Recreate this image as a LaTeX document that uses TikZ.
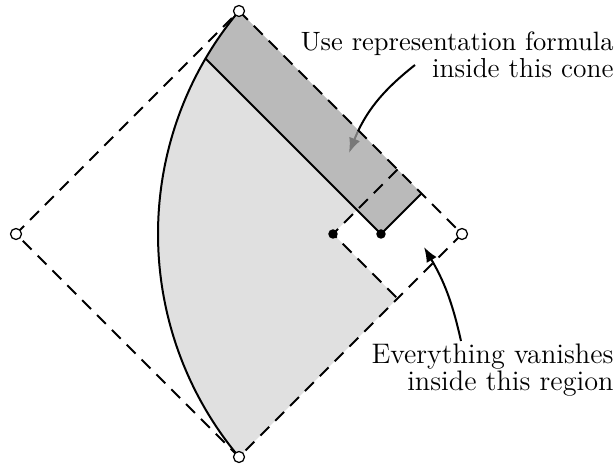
\documentclass[tikz,border=0pt]{standalone}
\usetikzlibrary{arrows.meta}
\definecolor{lightreg}{gray}{0.88}
\definecolor{bandcol}{gray}{0.635}
\begin{document}
\begin{tikzpicture}[x=0.4pt,y=0.4pt,
  edgeline/.style={line width=0.8pt, line join=round},
  dashedge/.style={line width=0.8pt, dash pattern=on 5pt off 3.4pt},
  opendot/.style={circle, draw, fill=white, line width=0.5pt, inner sep=0pt, minimum size=4.4pt},
  fulldot/.style={circle, fill=black, inner sep=0pt, minimum size=3.8pt},
  callout/.style={line width=0.8pt, -{Latex[length=6pt,width=4.6pt]}},
  lbl/.style={inner sep=0pt, anchor=base east}]
\useasboundingbox (0,0) rectangle (616,466);
% diamond vertices
\coordinate (T) at (239,455);
\coordinate (B) at (239,9);
\coordinate (L) at (16,232);
\coordinate (Rt) at (462,232);
% inner points
\coordinate (A) at (333,232);
\coordinate (D) at (381,232);
\coordinate (Q) at (397.5,296.5);
\coordinate (S) at (397.5,167.5);
\coordinate (E) at (421.5,272.5);
\coordinate (X) at (357,256);
\coordinate (P) at (205.55,407.45);
% arrow ends
\coordinate (a1s) at (415,401);
\coordinate (a1e) at (349,313);
\coordinate (a2s) at (461,125);
\coordinate (a2e) at (424,219);
% light region
\fill[lightreg] (P) arc[start angle=149.68, end angle=219.92, radius=139pt] -- (S) -- (A) -- (X) -- cycle;
% arrow into the cone (drawn below the band)
\draw[callout] (a1s) to[bend right=15] (a1e);
% dark band
\fill[bandcol, fill opacity=0.74] (T) -- (E) -- (D) -- (P) arc[start angle=149.68, end angle=140.08, radius=139pt] -- cycle;
% solid lines
\draw[edgeline] (T) arc[start angle=140.08, end angle=219.92, radius=139pt];
\draw[edgeline] (P) -- (D) -- (E);
% dashed lines
\draw[dashedge] (T) -- (Rt) -- (B) -- (L) -- cycle;
\draw[dashedge] (Q) -- (A) -- (S);
% dots
\node[opendot] (vT) at (T) {};
\node[opendot] (vB) at (B) {};
\node[opendot] (vL) at (L) {};
\node[opendot] (vR) at (Rt) {};
\node[fulldot] (dA) at (A) {};
\node[fulldot] (dD) at (D) {};
% second arrow
\draw[callout] (a2s) to[bend right=9] (a2e);
% labels
\node[lbl, font=\fontsize{10.6pt}{12pt}\selectfont] (use1) at (614,415) {Use representation formula};
\node[lbl, font=\fontsize{11pt}{12pt}\selectfont] (use2) at (614,388) {inside this cone};
\node[lbl, font=\fontsize{11.3pt}{12pt}\selectfont] (ev1) at (614,102) {Everything vanishes};
\node[lbl, font=\fontsize{11.3pt}{12pt}\selectfont] (ev2) at (614,75) {inside this region};
\end{tikzpicture}
\end{document}
